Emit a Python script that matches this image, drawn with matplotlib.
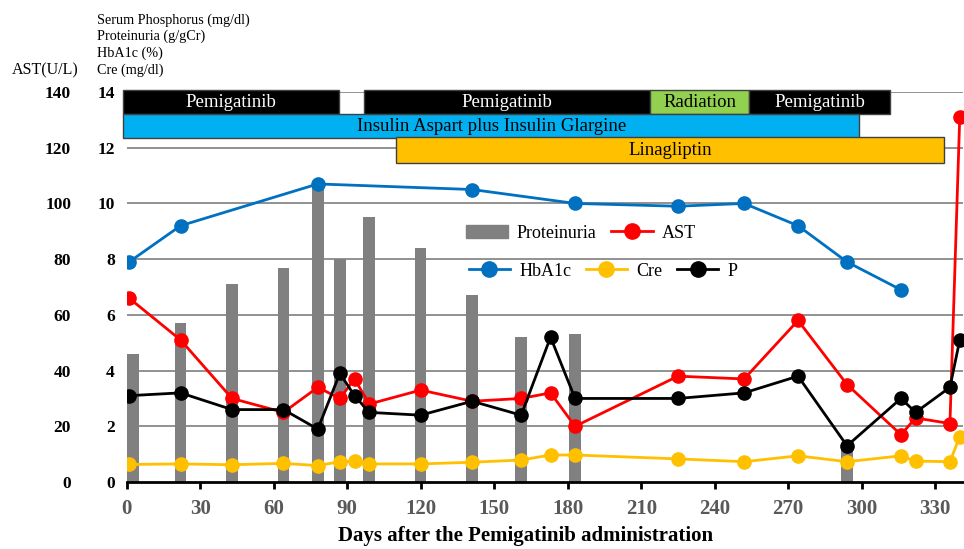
import matplotlib
matplotlib.use("Agg")
import matplotlib.pyplot as plt
from matplotlib.lines import Line2D
from matplotlib.patches import Patch

plt.rcParams["font.family"] = ["Liberation Serif", "DejaVu Serif"]

# lab values (days after start of Pemigatinib)
days = [1, 22, 43, 64, 78, 87, 93, 99, 120, 141, 161, 173, 183, 225, 252, 274, 294, 316, 322, 336, 340]
ast = [66, 51, 30, 25, 34, 30, 37, 28, 33, 29, 30, 32, 20, 38, 37, 58, 35, 17, 23, 21, 131]
p = [3.1, 3.2, 2.6, 2.6, 1.9, 3.9, 3.1, 2.5, 2.4, 2.9, 2.4, 5.2, 3.0, 3.0, 3.2, 3.8, 1.3, 3.0, 2.5, 3.4, 5.1]
cre = [0.63, 0.65, 0.62, 0.67, 0.59, 0.73, 0.75, 0.65, 0.65, 0.71, 0.79, 0.97, 0.97,
       0.83, 0.73, 0.94, 0.73, 0.94, 0.75, 0.73, 1.63]

hba1c_days = [1, 22, 78, 141, 183, 225, 252, 274, 294, 316]
hba1c = [7.9, 9.2, 10.7, 10.5, 10.0, 9.9, 10.0, 9.2, 7.9, 6.9]

prot_days = [2.5, 22, 43, 64, 78, 87, 99, 120, 141, 161, 183, 294]
prot = [4.6, 5.7, 7.1, 7.7, 10.6, 8.0, 9.5, 8.4, 6.7, 5.2, 5.3, 1.2]

# treatment periods: label, start day, end day, row
treat_names = ["Pemigatinib", "Pemigatinib", "Radiation", "Pemigatinib",
               "Insulin Aspart plus Insulin Glargine", "Linagliptin"]
treat_start = [-1.5, 97, 213.7, 254, -1.5, 110]
treat_end = [86.7, 213.7, 254, 311.5, 299, 333.6]
treat_row = [0, 0, 0, 0, 1, 2]

row_bottom = [13.21, 12.35, 11.45]
row_top = [14.07, 13.21, 12.38]
box_colors = ["black", "black", "#92D050", "black", "#00B0F0", "#FFC000"]
box_text = ["white", "white", "black", "white", "black", "black"]

x_ticks = [0, 30, 60, 90, 120, 150, 180, 210, 240, 270, 300, 330]
left_labels = ["Serum Phosphorus (mg/dl)", "Proteinuria (g/gCr)", "HbA1c (%)", "Cre (mg/dl)"]

fig = plt.figure(figsize=(9.64, 5.49), dpi=100)
ax = fig.add_axes([0.1314, 0.122, 0.868, 0.7104])
ax2 = ax.twinx()
ax3 = ax.twinx()

ax.set_xlim(0, 341.5)
ax.set_ylim(0, 14)
ax2.set_ylim(0, 140)
ax3.set_ylim(0, 14)

# grid + bars + treatment boxes on base axis
for g in range(2, 16, 2):
    ax.axhline(g, color="#7f7f7f", lw=1.2, zorder=0)
ax.bar(prot_days, prot, width=4.7, color="#808080", zorder=1)

for i in range(len(treat_names)):
    r = treat_row[i]
    h = row_top[r] - row_bottom[r]
    ax.barh(row_bottom[r] + h / 2, treat_end[i] - treat_start[i], left=treat_start[i], height=h,
            color=box_colors[i], edgecolor="#404040", lw=1, zorder=3, clip_on=False)
    ax.text((treat_start[i] + treat_end[i]) / 2, row_bottom[r] + h / 2 - 0.03, treat_names[i],
            ha="center", va="center", fontsize=13.5, color=box_text[i], zorder=4)

# AST on its own scale
ax2.plot(days, ast, color="#FF0000", lw=2, marker="o", ms=9.5, zorder=3)

ax3.plot(days, cre, color="#FFC000", lw=2, marker="o", ms=9.5)
ax3.plot(hba1c_days, hba1c, color="#0070C0", lw=2, marker="o", ms=9.5)
ax3.plot(days, p, color="black", lw=2, marker="o", ms=9.5)

for a in (ax, ax2, ax3):
    for s in ("left", "right", "top"):
        a.spines[s].set_visible(False)
ax2.spines["bottom"].set_visible(False)
ax3.spines["bottom"].set_visible(False)
ax.spines["bottom"].set_linewidth(2)
ax.spines["bottom"].set_zorder(5)

ax.set_xticks(x_ticks)
ax.tick_params(axis="x", direction="out", length=5, width=2, pad=7, labelsize=15,
               labelcolor="#595959")
for lab in ax.get_xticklabels():
    lab.set_fontweight("bold")

ax.set_yticks(range(0, 16, 2))
ax.tick_params(axis="y", length=0, pad=8.5, labelsize=12.5)
for lab in ax.get_yticklabels():
    lab.set_fontweight("bold")

ax2.yaxis.tick_left()
ax2.set_yticks(range(0, 160, 20))
ax2.tick_params(axis="y", length=0, pad=40, labelsize=12.5)
for lab in ax2.get_yticklabels():
    lab.set_fontweight("bold")
ax3.set_yticks([])

ax.set_xlabel("Days after the Pemigatinib administration", fontsize=15, fontweight="bold")
ax.xaxis.set_label_coords(0.477, -0.112)

for i, t in enumerate(left_labels):
    fig.text(97 / 964, 1 - (20 + 16.7 * i) / 549, t, fontsize=10.2, va="center", ha="left")
fig.text(45 / 964, 1 - 70 / 549, "AST(U/L)", fontsize=11.5, va="center", ha="center")

# legends
h_prot = Patch(color="#808080", label="Proteinuria")
h_ast = Line2D([], [], color="#FF0000", lw=2, marker="o", ms=11, label="AST")
h_hb = Line2D([], [], color="#0070C0", lw=2, marker="o", ms=11, label="HbA1c")
h_cre = Line2D([], [], color="#FFC000", lw=2, marker="o", ms=11, label="Cre")
h_p = Line2D([], [], color="black", lw=2, marker="o", ms=11, label="P")

leg1 = fig.legend(handles=[h_prot, h_ast], ncol=2, loc="center", frameon=False,
                  bbox_to_anchor=(581 / 964, 1 - 233 / 549), fontsize=13,
                  handlelength=2.3, handletextpad=0.5, columnspacing=0.8)
leg2 = fig.legend(handles=[h_hb, h_cre, h_p], ncol=3, loc="center", frameon=False,
                  bbox_to_anchor=(603 / 964, 1 - 271 / 549), fontsize=13,
                  handlelength=2.3, handletextpad=0.5, columnspacing=0.8)

fig.savefig("out.png", dpi=100)
